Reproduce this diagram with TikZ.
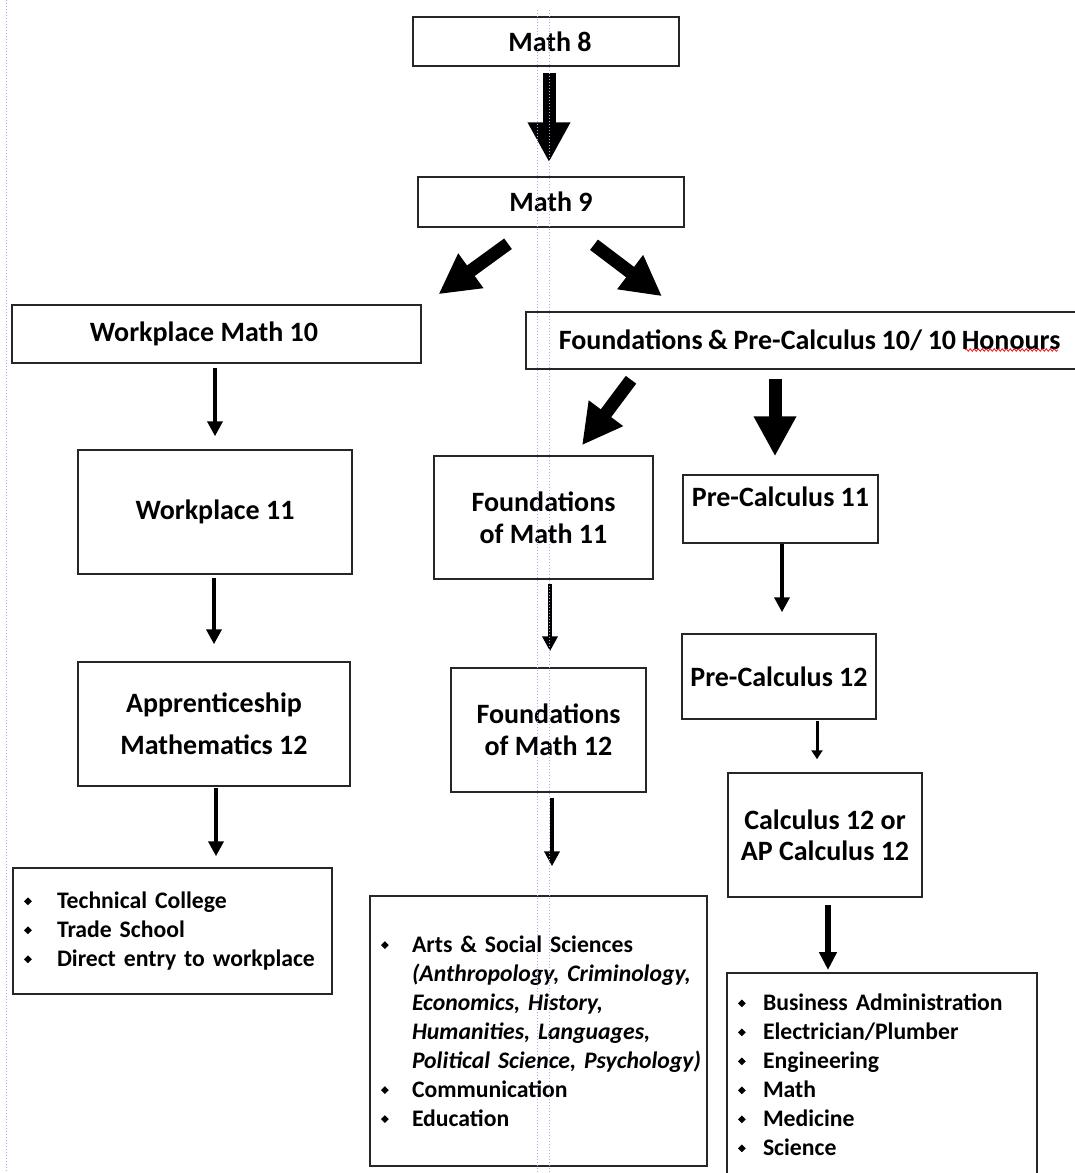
\documentclass[tikz,border=0pt]{standalone}
\usepackage{fontspec}
\setmainfont{Carlito}
\usepackage{xcolor}
\usepackage{tikz}
\usetikzlibrary{arrows.meta,decorations.pathmorphing}

\definecolor{guideblue}{RGB}{150,180,235}
\newcommand{\bmark}{\raisebox{3.3pt}{\rotatebox{45}{\rule{5.5pt}{5.5pt}}}}
\newcommand{\bitem}[2]{\mbox{\makebox[#1][l]{\bmark}#2}}
\newcommand{\bcont}[2]{\mbox{\hspace*{#1}#2}}
\newcommand{\listfont}{\fontsize{23.7}{29}\selectfont\bfseries\spaceskip=0.23em\relax}

\begin{document}
\begin{tikzpicture}[x=1pt, y=-1pt,
    box/.style={draw=black!85, line width=1.5pt, align=center, inner sep=0pt,
        font=\fontsize{28}{32}\selectfont\bfseries},
    listbox/.style={draw=black!85, line width=1.5pt, align=left, inner ysep=0pt,
        font=\listfont},
    fat/.style={line width=13pt, -{Triangle[length=40pt,width=40pt]}},
    thin/.style={line width=4pt, -{Triangle[length=15pt,width=15pt]}},
    tiny/.style={line width=3pt, -{Triangle[length=9pt,width=11pt]}},
    stout/.style={line width=5.5pt, -{Triangle[length=18pt,width=17pt]}},
    guide/.style={guideblue, dotted, line width=1pt}]
    \useasboundingbox (0,0) rectangle (1074,1173);

    % Top of the pathway
    \node[box, minimum width=266, minimum height=49] (m8) at (546,41.5) {\hspace*{8pt}Math 8};
    \node[box, minimum width=266, minimum height=50] (m9) at (551,202) {Math 9};

    % Grade 10 split
    \node[box, minimum width=409, minimum height=58] (wm10) at (216.5,334) {Workplace Math 10\hspace*{25pt}};
    \node[box, anchor=west, inner xsep=33, text width=560, align=left, minimum height=57]
        (fpc) at (525,340.5) {\mbox{\spaceskip=0.2em Foundations \& Pre-Calculus 10/ 10 Honours}};
    \draw[red, line width=0.7pt, decorate, decoration={snake, amplitude=1.3pt, segment length=4pt}]
        (965,350) -- (1058,350);

    % Workplace column
    \node[box, minimum width=274, minimum height=124] (w11) at (215,512) {Workplace 11};
    \node[box, minimum width=272, minimum height=124] (app12) at (214,724) {Apprenticeship\\[10pt]Mathematics 12};
    \node[listbox, text width=297, inner xsep=11, minimum height=126] (wlist) at (172.5,931)
        {\bitem{33pt}{Technical College}\\
         \bitem{33pt}{Trade School}\\
         \bitem{33pt}{Direct entry to workplace}};

    % Foundations column
    \node[box, minimum width=219, minimum height=123] (fom11) at (543.5,517.5) {Foundations\\of Math 11};
    \node[box, minimum width=195, minimum height=124] (fom12) at (548.5,730) {Foundations\\of Math 12};
    \node[listbox, text width=315, inner xsep=11, minimum height=270] (flist) at (538.5,1031)
        {\bitem{31pt}{Arts \& Social Sciences}\\
         \bcont{31pt}{\itshape (Anthropology, Criminology,}\\
         \bcont{31pt}{\itshape Economics, History,}\\
         \bcont{31pt}{\itshape Humanities, Languages,}\\
         \bcont{31pt}{\itshape Political Science, Psychology)}\\
         \bitem{31pt}{Communication}\\
         \bitem{31pt}{Education}};

    % Pre-Calculus column
    \node[box, minimum width=195, minimum height=68, text depth=24pt] (pc11) at (780.5,509) {Pre-Calculus 11};
    \node[box, minimum width=194, minimum height=85] (pc12) at (779,676.5) {Pre-Calculus 12};
    \node[box, minimum width=194, minimum height=124, font=\fontsize{28}{31}\selectfont\bfseries]
        (calc) at (825,835) {Calculus 12 or\\AP Calculus 12};
    \node[listbox, anchor=north, text width=288, inner xsep=11, minimum height=204] (slist) at (882,972)
        {\bitem{25pt}{Business Administration}\\
         \bitem{25pt}{Electrician/Plumber}\\
         \bitem{25pt}{Engineering}\\
         \bitem{25pt}{Math}\\
         \bitem{25pt}{Medicine}\\
         \bitem{25pt}{Science}};

    % Arrows
    \draw[fat] ([shift={(3,6)}]m8.south) -- ([shift={(-2,-14)}]m9.north);
    \draw[fat] ([shift={(-43,16)}]m9.south) -- ([shift={(222,-10)}]wm10.north);
    \draw[fat] ([shift={(43,17)}]m9.south) -- ([shift={(137,-15)}]fpc.north west);
    \draw[fat] ([shift={(106,10)}]fpc.south west) -- ([shift={(38.5,-10)}]fom11.north);
    \draw[fat] ([shift={(250,9)}]fpc.south west) -- ([shift={(-5.5,-18)}]pc11.north);

    \draw[thin] ([shift={(-1.5,4)}]wm10.south) -- ([shift={(0,-13)}]w11.north);
    \draw[thin] ([shift={(-1,3)}]w11.south) -- ([shift={(0,-17)}]app12.north);
    \draw[thin] ([shift={(2,1)}]app12.south) -- ([shift={(43.5,-11)}]wlist.north);
    \draw[thin] ([shift={(6.5,4)}]fom11.south) -- ([shift={(1.5,-16)}]fom12.north);
    \draw[thin] ([shift={(3.5,5)}]fom12.south) -- ([shift={(13.5,-29)}]flist.north);
    \draw[thin] ([shift={(1.5,0)}]pc11.south) -- ([shift={(3,-21)}]pc12.north);
    \draw[tiny] ([shift={(38,1)}]pc12.south) -- ([shift={(-8,-13)}]calc.north);
    \draw[stout] ([shift={(3,7)}]calc.south) -- ([shift={(-54,-2)}]slist.north);

    % Page guides
    \draw[guide] (6,0) -- (6,1173);
    \draw[guide] (537,10) -- (537,1173);
    \draw[guide] (549,10) -- (549,1173);
\end{tikzpicture}
\end{document}
